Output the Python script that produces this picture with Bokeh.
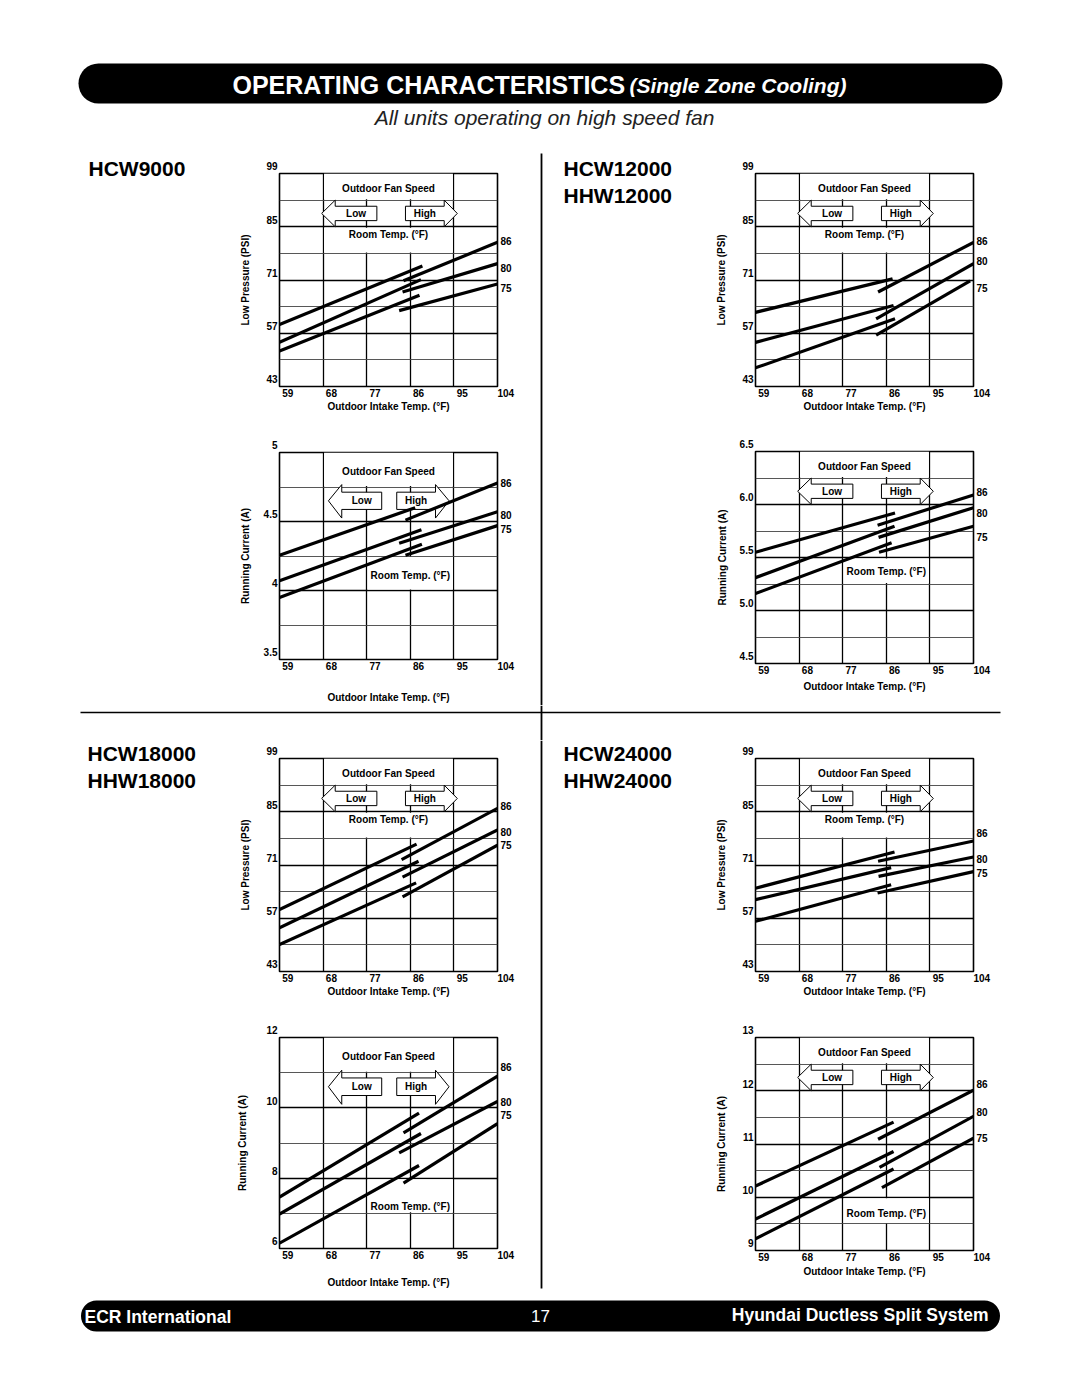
from bokeh.plotting import figure
from bokeh.models import Range1d, FixedTicker, CustomJSTickFormatter, ColumnDataSource, LinearAxis
from bokeh.layouts import column, row
from bokeh.core.properties import value
from bokeh.embed import file_html
from bokeh.resources import INLINE

FONT = "Liberation Sans"

# ---------------- data ----------------
X_TICKS = [59, 68, 77, 86, 95, 104]
ROOM_TEMPS = ["86", "80", "75"]

# each segment: (x_start, y_start, x_end, y_end), rows ordered by room temp 86, 80, 75
HCW9000_PSI_LOW = [(59, 59.3, 88.5, 74.7), (59, 54.6, 88.2, 71.1), (59, 52.3, 87.9, 67.0)]
HCW9000_PSI_HIGH = [(84.6, 70.8, 104, 80.9), (84.4, 67.85, 104, 75.3), (83.7, 62.95, 104, 69.95)]
HCW9000_PSI_LABEL_Y = [81.3, 74.2, 68.9]

HCW9000_AMP_LOW = [(59, 4.255, 87.0, 4.60), (59, 4.07, 88.3, 4.44), (59, 3.95, 88.4, 4.336)]
HCW9000_AMP_HIGH = [(85.0, 4.51, 104, 4.78), (83.7, 4.343, 104, 4.57), (85.0, 4.255, 104, 4.47)]
HCW9000_AMP_LABEL_Y = [4.78, 4.55, 4.445]

HCW12000_PSI_LOW = [(59, 62.5, 87.3, 71.3), (59, 54.6, 87.5, 64.3), (59, 47.9, 87.8, 60.8)]
HCW12000_PSI_HIGH = [(84.3, 67.85, 104, 80.9), (83.9, 60.8, 104, 75.3), (83.9, 56.5, 103.3, 70.8)]
HCW12000_PSI_LABEL_Y = [81.3, 76.0, 68.9]

HCW12000_AMP_LOW = [(59, 5.55, 87.8, 5.92), (59, 5.31, 87.7, 5.795), (59, 5.16, 87.1, 5.64)]
HCW12000_AMP_HIGH = [(84.2, 5.805, 104, 6.09), (84.4, 5.69, 104, 5.97), (84.5, 5.55, 104, 5.795)]
HCW12000_AMP_LABEL_Y = [6.115, 5.92, 5.69]

HCW18000_PSI_LOW = [(59, 59.3, 87.3, 76.5), (59, 54.5, 87.7, 72.0), (59, 50.1, 87.2, 66.3)]
HCW18000_PSI_HIGH = [(84.2, 72.4, 104, 85.9), (84.4, 67.8, 104, 80.2), (84.4, 62.6, 104, 76.2)]
HCW18000_PSI_LABEL_Y = [86.4, 79.6, 76.2]

HCW18000_AMP_LOW = [(59, 7.46, 87.8, 9.85), (59, 6.98, 88.2, 9.27), (59, 6.15, 87.8, 8.36)]
HCW18000_AMP_HIGH = [(84.6, 9.29, 104, 10.9), (83.7, 8.72, 104, 10.18), (84.6, 7.86, 104, 9.55)]
HCW18000_AMP_LABEL_Y = [11.16, 10.18, 9.8]

HCW24000_PSI_LOW = [(59, 64.9, 87.7, 74.4), (59, 61.9, 87.0, 70.3), (59, 56.2, 87.0, 65.8)]
HCW24000_PSI_HIGH = [(84.3, 72.0, 104, 77.3), (84.4, 68.0, 104, 73.1), (84.2, 63.65, 104, 69.25)]
HCW24000_PSI_LABEL_Y = [79.3, 72.6, 68.9]

HCW24000_AMP_LOW = [(59, 10.21, 87.5, 11.41), (59, 9.59, 87.5, 10.86), (59, 9.22, 87.5, 10.53)]
HCW24000_AMP_HIGH = [(84.3, 11.09, 104, 12.01), (84.6, 10.56, 104, 11.52), (85.1, 10.18, 104, 11.11)]
HCW24000_AMP_LABEL_Y = [12.12, 11.6, 11.12]

PSI_TICKS = [43, 57, 71, 85, 99]
PSI_MINOR = [50, 64, 78, 92]
HCW9000_AMP_TICKS = [3.5, 4.0, 4.5, 5.0]
HCW9000_AMP_MINOR = [3.75, 4.25, 4.75]
HCW12000_AMP_TICKS = [4.5, 5.0, 5.5, 6.0, 6.5]
HCW12000_AMP_MINOR = [4.75, 5.25, 5.75, 6.25]
HCW18000_AMP_TICKS = [6, 8, 10, 12]
HCW18000_AMP_MINOR = [7, 9, 11]
HCW24000_AMP_TICKS = [9, 10, 11, 12, 13]
HCW24000_AMP_MINOR = [9.5, 10.5, 11.5, 12.5]

PSI_TITLE = "Low Pressure (PSI)"
AMP_TITLE = "Running Current (A)"
X_TITLE = "Outdoor Intake Temp. (°F)"

# ---------------- helpers ----------------

def blank(w, h, x0, x1, y0, y1):
    p = figure(width=w, height=h, x_range=Range1d(x0, x1), y_range=Range1d(y1, y0),
               min_border=0, output_backend="svg", toolbar_location=None,
               x_axis_location=None, y_axis_location=None, title_location=None)
    p.grid.visible = False
    p.outline_line_color = None
    p.background_fill_color = "white"
    p.border_fill_color = "white"
    return p


def txt(p, x, y, s, size, style="bold", color="black", align="left", baseline="middle"):
    p.text(x=[x], y=[y], text=[s], text_font=value(FONT), text_font_size=size,
           text_font_style=style, text_color=color, text_align=align, text_baseline=baseline)


def style_axis(ax, standoff):
    ax.axis_line_color = None
    ax.major_tick_line_color = None
    ax.minor_tick_line_color = None
    ax.major_tick_out = 0
    ax.major_tick_in = 0
    ax.minor_tick_out = 0
    ax.minor_tick_in = 0
    ax.major_label_standoff = standoff
    ax.major_label_text_font = FONT
    ax.major_label_text_font_size = "10px"
    ax.major_label_text_font_style = "bold"
    ax.major_label_text_color = "black"
    ax.axis_label_text_font = FONT
    ax.axis_label_text_font_size = "10px"
    ax.axis_label_text_font_style = "bold"
    ax.axis_label_text_color = "black"


# tick labels of the scanned original sit a little right of / above their grid lines
X_FMT = "return '\u00a0\u00a0\u00a0\u00a0\u00a0\u00a0' + tick.toFixed(0);"


def chart(h, bt, bb, yticks, yminor, yfmt, ytitle, ylab_so, xtitle_so,
          low, high, label_y, big, room_box, room_text_y):
    y0, y1 = yticks[0], yticks[-1]
    nrows = len(yticks) + len(yminor) - 1
    r = (y1 - y0) / nrows
    frame_h = h - bt - bb
    dx = 45.0 / 218.0
    dy = (y1 - y0) / frame_h
    p = figure(width=298, height=h, x_range=Range1d(59, 104), y_range=Range1d(y0, y1),
               min_border_left=47, min_border_right=33, min_border_top=bt, min_border_bottom=bb,
               output_backend="svg", toolbar_location=None, title_location=None)
    p.outline_line_color = "black"
    p.outline_line_width = 1.6
    p.background_fill_color = "white"
    p.border_fill_color = "white"

    p.xgrid.ticker = FixedTicker(ticks=X_TICKS[1:-1])
    p.xgrid.grid_line_color = "black"
    p.xgrid.grid_line_width = 1.3
    p.ygrid.ticker = FixedTicker(ticks=yticks, minor_ticks=yminor)
    p.ygrid.grid_line_color = "black"
    p.ygrid.grid_line_width = 1.7
    p.ygrid.minor_grid_line_color = "#444444"
    p.ygrid.minor_grid_line_width = 0.9

    p.xaxis.ticker = FixedTicker(ticks=X_TICKS)
    p.xaxis.formatter = CustomJSTickFormatter(code=X_FMT)
    p.yaxis.ticker = FixedTicker(ticks=yticks)
    p.yaxis.formatter = CustomJSTickFormatter(code=yfmt)
    style_axis(p.xaxis[0], 1)
    style_axis(p.yaxis[0], 2)
    p.xaxis.axis_label = X_TITLE
    p.xaxis.axis_label_standoff = xtitle_so
    p.yaxis.axis_label = ytitle
    p.yaxis.axis_label_standoff = ylab_so

    # room-temperature names on the right side, as a right axis
    rax = LinearAxis(ticker=FixedTicker(ticks=label_y),
                     formatter=CustomJSTickFormatter(
                         args=dict(ys=label_y, names=ROOM_TEMPS),
                         code="const i = ys.indexOf(tick); return i >= 0 ? names[i] : '';"))
    style_axis(rax, 3)
    p.add_layout(rax, "right")

    # white boxes (fan speed header, room temp) covering the grid
    p.quad(left=[68 + dx], right=[95 - dx], bottom=[y1 - r + dy], top=[y1],
           fill_color="white", line_color=None)
    rl, rr, rb, rt = room_box
    p.quad(left=[rl + dx], right=[rr - dx], bottom=[rb + dy], top=[rt - dy],
           fill_color="white", line_color=None)
    txt(p, 81.5, y1 - 0.55 * r, "Outdoor Fan Speed", "10px", align="center")
    txt(p, (rl + rr) / 2.0, room_text_y, "Room Temp. (°F)", "10px", align="center")

    # fan speed arrows
    rtop = y1 - r
    if big:
        ht, hb, ym = rtop + 0.07 * r, rtop - 0.9 * r, rtop - 0.4 * r
        bt_, bb_ = rtop - 0.15 * r, rtop - 0.65 * r
        lt, lb, lr = 69.1, 71.85, 80.1
        hl, hbx, htp = 83.2, 91.2, 94.0
    else:
        ht, hb, ym = rtop, rtop - r, rtop - 0.5 * r
        bt_, bb_ = rtop - 0.23 * r, rtop - 0.77 * r
        lt, lb, lr = 67.7, 70.5, 79.1
        hl, hbx, htp = 85.0, 93.0, 95.7
    p.patch([lt, lb, lb, lr, lr, lb, lb], [ym, ht, bt_, bt_, bb_, bb_, hb],
            fill_color="white", line_color="black", line_width=1.0)
    p.patch([hl, hbx, hbx, htp, hbx, hbx, hl], [bt_, bt_, ht, ym, hb, bb_, bb_],
            fill_color="white", line_color="black", line_width=1.0)
    txt(p, (lb + lr) / 2.0, ym, "Low", "10px", align="center")
    txt(p, (hl + hbx) / 2.0, ym, "High", "10px", align="center")

    segs = low + high
    src = ColumnDataSource(dict(x0=[s[0] for s in segs], y0=[s[1] for s in segs],
                                x1=[s[2] for s in segs], y1=[s[3] for s in segs]))
    p.segment(x0="x0", y0="y0", x1="x1", y1="y1", source=src,
              line_color="black", line_width=3.2)
    return p


FMT_INT = "return tick.toFixed(0) + '\\n\u00a0';"
FMT_ONE = "return tick.toFixed(1) + '\\n\u00a0';"
FMT_MIX = "return (Number.isInteger(tick) ? tick.toFixed(0) : tick.toFixed(1)) + '\\n\u00a0';"

# ---------------- charts ----------------
tl_psi = chart(272, 25, 34, PSI_TICKS, PSI_MINOR, FMT_INT, PSI_TITLE, 12, -1,
               HCW9000_PSI_LOW, HCW9000_PSI_HIGH, HCW9000_PSI_LABEL_Y, False, (68, 95, 78, 85), 83.0)
tl_amp = chart(285, 32, 44, HCW9000_AMP_TICKS, HCW9000_AMP_MINOR, FMT_MIX, AMP_TITLE, 10, 17,
               HCW9000_AMP_LOW, HCW9000_AMP_HIGH, HCW9000_AMP_LABEL_Y, True, (77, 95, 4.0, 4.25), 4.11)
tr_psi = chart(272, 25, 34, PSI_TICKS, PSI_MINOR, FMT_INT, PSI_TITLE, 12, -1,
               HCW12000_PSI_LOW, HCW12000_PSI_HIGH, HCW12000_PSI_LABEL_Y, False, (68, 95, 78, 85), 83.0)
tr_amp = chart(285, 31, 42, HCW12000_AMP_TICKS, HCW12000_AMP_MINOR, FMT_ONE, AMP_TITLE, 9, 2,
               HCW12000_AMP_LOW, HCW12000_AMP_HIGH, HCW12000_AMP_LABEL_Y, False, (77, 95, 5.25, 5.5), 5.37)
bl_psi = chart(272, 18, 41, PSI_TICKS, PSI_MINOR, FMT_INT, PSI_TITLE, 12, -1,
               HCW18000_PSI_LOW, HCW18000_PSI_HIGH, HCW18000_PSI_LABEL_Y, False, (68, 95, 78, 85), 83.0)
bl_amp = chart(280, 25, 44, HCW18000_AMP_TICKS, HCW18000_AMP_MINOR, FMT_INT, AMP_TITLE, 15, 13,
               HCW18000_AMP_LOW, HCW18000_AMP_HIGH, HCW18000_AMP_LABEL_Y, True, (77, 95, 7, 8), 7.2)
br_psi = chart(272, 18, 41, PSI_TICKS, PSI_MINOR, FMT_INT, PSI_TITLE, 12, -1,
               HCW24000_PSI_LOW, HCW24000_PSI_HIGH, HCW24000_PSI_LABEL_Y, False, (68, 95, 78, 85), 83.0)
br_amp = chart(280, 25, 42, HCW24000_AMP_TICKS, HCW24000_AMP_MINOR, FMT_INT, AMP_TITLE, 12, 0,
               HCW24000_AMP_LOW, HCW24000_AMP_HIGH, HCW24000_AMP_LABEL_Y, False, (77, 95, 9.5, 10), 9.7)

# ---------------- page furniture (page pixel coordinates) ----------------
header = blank(1072, 148, 0, 1072, 0, 148)
header.line(x=[98, 982], y=[83, 83], line_width=40, line_cap="round", line_color="black")
txt(header, 232, 84, "OPERATING CHARACTERISTICS", "25px", color="white")
txt(header, 629, 85, "(Single Zone Cooling)", "21px", style="bold italic", color="white")
txt(header, 544, 117, "All units operating on high speed fan", "21px", style="italic",
    color="#222222", align="center")

lab_tl = blank(232, 557, 0, 232, 148, 705)
txt(lab_tl, 88, 168, "HCW9000", "21px")
mid_t = blank(178, 557, 530, 708, 148, 705)
mid_t.line(x=[541, 541], y=[153, 705], line_color="black", line_width=1.8)
txt(mid_t, 563, 168, "HCW12000", "21px")
txt(mid_t, 563, 195, "HHW12000", "21px")
pad_t = blank(66, 557, 1006, 1072, 148, 705)

strip = blank(1072, 35, 0, 1072, 705, 740)
strip.line(x=[80, 1000], y=[712, 712], line_color="black", line_width=1.6)
strip.line(x=[541, 541], y=[705, 740], line_color="black", line_width=1.8)

lab_bl = blank(232, 552, 0, 232, 740, 1292)
txt(lab_bl, 87, 753, "HCW18000", "21px")
txt(lab_bl, 87, 780, "HHW18000", "21px")
mid_b = blank(178, 552, 530, 708, 740, 1292)
mid_b.line(x=[541, 541], y=[740, 1288], line_color="black", line_width=1.8)
txt(mid_b, 563, 753, "HCW24000", "21px")
txt(mid_b, 563, 780, "HHW24000", "21px")
pad_b = blank(66, 552, 1006, 1072, 740, 1292)

footer = blank(1072, 97, 0, 1072, 1292, 1389)
footer.line(x=[96, 984], y=[1315.5, 1315.5], line_width=31, line_cap="round", line_color="black")
txt(footer, 84, 1316, "ECR International", "17.5px", color="white")
txt(footer, 540, 1315, "17", "17px", style="normal", color="white", align="center")
txt(footer, 988, 1314, "Hyundai Ductless Split System", "17.5px", color="white", align="right")

top = row(lab_tl, column(tl_psi, tl_amp, spacing=0), mid_t, column(tr_psi, tr_amp, spacing=0), pad_t, spacing=0)
bottom = row(lab_bl, column(bl_psi, bl_amp, spacing=0), mid_b, column(br_psi, br_amp, spacing=0), pad_b, spacing=0)
page = column(header, top, strip, bottom, footer, spacing=0)

open("out.html", "w").write(file_html(page, INLINE))
